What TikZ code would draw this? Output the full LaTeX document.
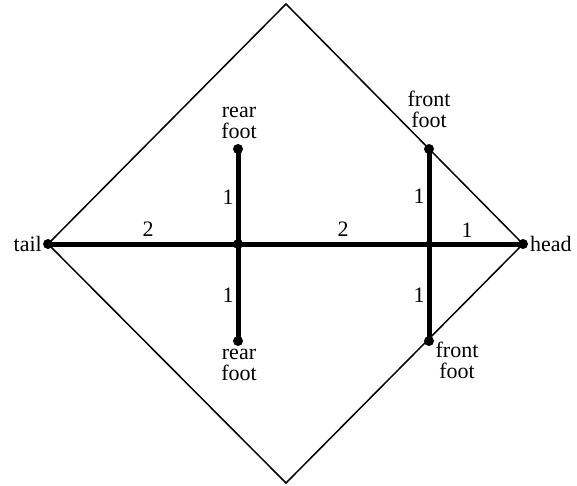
\documentclass[tikz,border=0pt]{standalone}
\usepackage{fontspec}
\setmainfont{Liberation Serif}
\begin{document}
\begin{tikzpicture}[x=1pt,y=-1pt,
  dot/.style={circle,fill=black,inner sep=0pt,minimum size=10pt},
  bone/.style={line width=5pt},
  outline/.style={line width=1.5pt,line join=miter},
  lbl/.style={font=\fontsize{22}{21}\selectfont,align=center,inner sep=1pt},
  num/.style={font=\fontsize{22}{21}\selectfont,inner sep=0pt}]
\useasboundingbox (0,0) rectangle (577,485);
% skeleton points
\node[dot] (tail) at (48,244) {};
\node[dot] (head) at (523,244) {};
\node[dot] (rear) at (238,244) {};
\node[dot,minimum size=7pt] (front) at (429,244) {};
\node[dot] (rfu) at (238,149) {};
\node[dot] (rfd) at (238,341) {};
\node[dot] (ffu) at (429,149) {};
\node[dot] (ffd) at (429,341) {};
\coordinate (top) at (286,4);
\coordinate (bot) at (286,483);
% diamond
\draw[outline] (tail.center) -- (top) -- (head.center) -- (bot) -- cycle;
% bones
\draw[bone] (tail.center) -- (rear.center) -- (front.center) -- (head.center);
\draw[bone] (rfu.center) -- (rear.center) -- (rfd.center);
\draw[bone] (ffu.center) -- (front.center) -- (ffd.center);
% labels
\node[lbl,anchor=east] (ltail) at (43,244) {tail};
\node[lbl,anchor=west] (lhead) at (529,244) {head};
\node[lbl,anchor=south] (lrfu) at (239,140) {rear\\foot};
\node[lbl,anchor=north] (lrfd) at (239,348) {rear\\foot};
\node[lbl,anchor=south] (lffu) at (429,129) {front\\foot};
\node[lbl,anchor=north] (lffd) at (457,341) {front\\foot};
% weights
\node[num] (w1) at (148,229) {2};
\node[num] (w2) at (343,229) {2};
\node[num] (w3) at (467,230) {1};
\node[num] (w4) at (228,197) {1};
\node[num] (w5) at (228,295) {1};
\node[num] (w6) at (419,196) {1};
\node[num] (w7) at (419,295) {1};
\end{tikzpicture}
\end{document}
